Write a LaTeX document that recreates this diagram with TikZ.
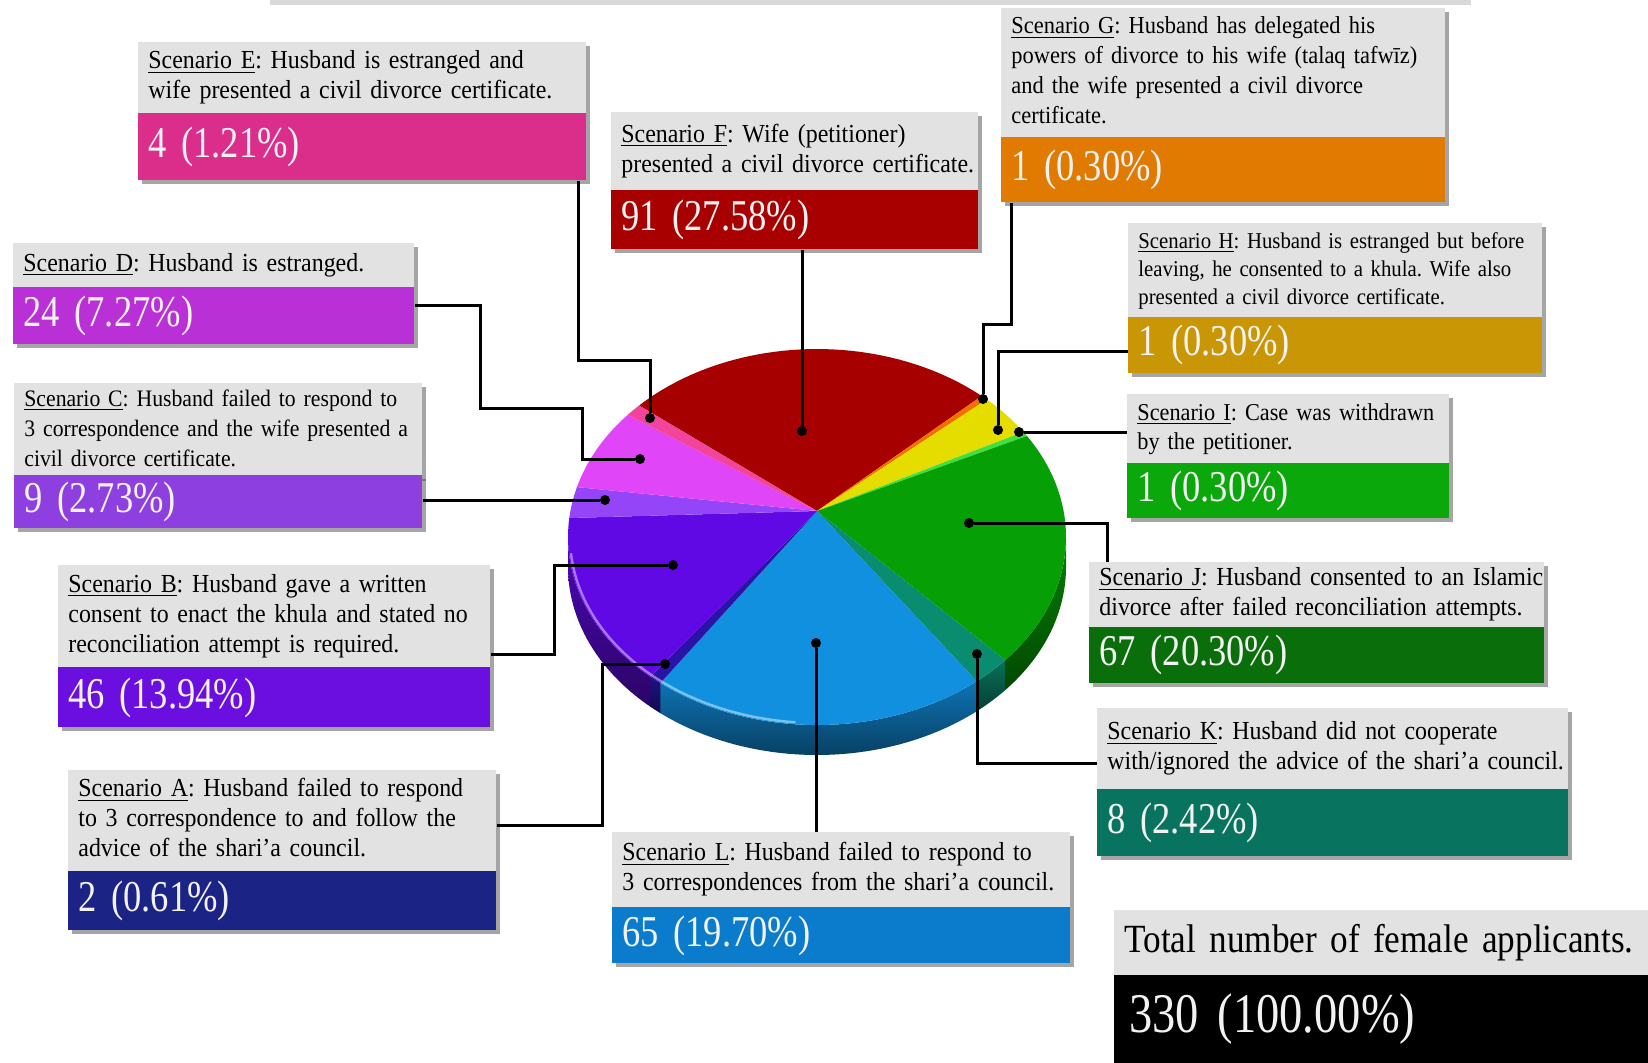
\documentclass[tikz,border=0pt]{standalone}
\usepackage{fontspec}
\setmainfont{Liberation Serif}
\newfontfamily\capfont[FakeStretch=0.92]{Liberation Serif}
\newfontfamily\numfont[FakeStretch=0.83]{Liberation Serif}
\newfontfamily\totfont[FakeStretch=0.88]{Liberation Serif}
\usetikzlibrary{shadows}
\frenchspacing
% legend band colours
\definecolor{capgray}{HTML}{E2E2E2}
\definecolor{bA}{HTML}{1B2385}
\definecolor{bB}{HTML}{6B0FE0}
\definecolor{bC}{HTML}{8E3FE0}
\definecolor{bD}{HTML}{B830D6}
\definecolor{bE}{HTML}{DB2E8A}
\definecolor{bF}{HTML}{A80000}
\definecolor{bG}{HTML}{E07A00}
\definecolor{bH}{HTML}{C99605}
\definecolor{bI}{HTML}{0AA80A}
\definecolor{bJ}{HTML}{0A6E0A}
\definecolor{bK}{HTML}{08745F}
\definecolor{bL}{HTML}{0A7CCB}
% pie colours
\definecolor{pA}{HTML}{2A14A8}
\definecolor{pB}{HTML}{6009E4}
\definecolor{pC}{HTML}{9545F8}
\definecolor{pD}{HTML}{E045F8}
\definecolor{pE}{HTML}{F2449A}
\definecolor{pF}{HTML}{A60000}
\definecolor{pG}{HTML}{F07000}
\definecolor{pH}{HTML}{E6DD00}
\definecolor{pI}{HTML}{40E040}
\definecolor{pJ}{HTML}{06A006}
\definecolor{pK}{HTML}{0A8C70}
\definecolor{pL}{HTML}{1190E0}
\newcommand\capsz{13}
\newcommand\capbs{15}
\newcommand\scbox[9]{%
  \pgfmathsetmacro\bw{(#4-#2)*0.5}%
  \pgfmathsetmacro\tw{(#4-#2)*0.5-10}%
  \pgfmathsetmacro\ch{(#5-#3)*0.5}%
  \pgfmathsetmacro\vh{(#6-#5)*0.5}%
  \node[capbox, anchor=north west, minimum width=\bw pt, minimum height=\ch pt, text width=\tw pt] (#1t) at (#2,#3) {\noindent\begin{tabular}{@{}l@{}}#8\end{tabular}};
  \node[valbox, fill=#7, anchor=north west, minimum width=\bw pt, minimum height=\vh pt, text width=\tw pt] (#1v) at (#2,#5) {#9};
}
\newcommand\pieslice[3]{% colour, t1, t2
  \fill[#1] (817,511) -- plot[domain=#2:#3, samples=40] ({817+249*cos(\x)},{537+188*sin(\x)}) -- cycle;
}
\newcommand\pieside[3]{% colour, t1, t2
  \path[top color=#1!80!black, bottom color=#1!45!black] plot[domain=#2:#3, samples=40] ({817+249*cos(\x)},{537+188*sin(\x)}) -- plot[domain=#3:#2, samples=40] ({817+249*cos(\x)},{567+188*sin(\x)}) -- cycle;
}
\begin{document}
\begin{tikzpicture}[x=0.5pt,y=-0.5pt,
  capbox/.style={fill=capgray, inner xsep=5pt, inner ysep=1pt, align=left,
    font=\capfont\fontsize{\capsz}{\capbs}\selectfont,
    drop shadow={shadow xshift=2pt,shadow yshift=-2pt,fill=black!70}},
  valbox/.style={inner xsep=5pt, inner ysep=0pt, align=left, text=white!95!black,
    font=\numfont\fontsize{22}{24}\selectfont,
    drop shadow={shadow xshift=2pt,shadow yshift=-2pt,fill=black!70}},
  conn/.style={line width=1.5pt, black},
  dot/.style={circle, fill=black, inner sep=0pt, minimum size=5pt}]
\useasboundingbox (0,0) rectangle (1648,1062);
\fill[black!15] (270,0) rectangle (1471,5);
% ---------- pie: side ----------
\pieside{pJ}{0}{40.9}
\pieside{pK}{40.9}{50.1}
\pieside{pL}{50.1}{129}
\pieside{pA}{129}{132}
\pieside{pB}{132}{180}
% ---------- pie: top ----------
\pieslice{pF}{224.4}{311.4}
\pieslice{pG}{311.4}{313}
\pieslice{pH}{313}{326}
\pieslice{pI}{326}{327.5}
\pieslice{pJ}{327.5}{400.9}
\pieslice{pK}{40.9}{50.1}
\pieslice{pL}{50.1}{129}
\pieslice{pA}{129}{132}
\pieslice{pB}{132}{185.8}
\pieslice{pC}{185.8}{195.4}
\pieslice{pD}{195.4}{220.5}
\pieslice{pE}{220.5}{224.4}
\draw[white, opacity=0.45, line width=1.2pt] plot[domain=95:175, samples=40] ({817+247*cos(\x)},{537+186*sin(\x)});
% ---------- boxes ----------
\scbox{E}{138}{42}{586}{113}{180}{bE}{\underline{Scenario E}: Husband is estranged and\\wife presented a civil divorce certificate.}{4 (1.21\%)}
\scbox{F}{611}{112}{978}{190}{249}{bF}{\underline{Scenario F}: Wife (petitioner)\\presented a civil divorce certificate.}{91 (27.58\%)}
\renewcommand\capsz{12.2}
\scbox{G}{1001}{8}{1445}{137}{202}{bG}{\underline{Scenario G}: Husband has delegated his\\powers of divorce to his wife (talaq tafwīz)\\and the wife presented a civil divorce\\certificate.}{1 (0.30\%)}
\renewcommand\capsz{11.3}\renewcommand\capbs{14}
\scbox{H}{1128}{223}{1542}{317}{373}{bH}{\underline{Scenario H}: Husband is estranged but before\\leaving, he consented to a khula. Wife also\\presented a civil divorce certificate.}{1 (0.30\%)}
\renewcommand\capsz{12.1}\renewcommand\capbs{14.5}
\scbox{I}{1127}{394}{1449}{463}{518}{bI}{\underline{Scenario I}: Case was withdrawn\\by the petitioner.}{1 (0.30\%)}
\renewcommand\capsz{13}\renewcommand\capbs{15}
\scbox{J}{1089}{562}{1544}{627}{683}{bJ}{\underline{Scenario J}: Husband consented to an Islamic\\divorce after failed reconciliation attempts.}{67 (20.30\%)}
\scbox{K}{1097}{708}{1568}{789}{856}{bK}{\underline{Scenario K}: Husband did not cooperate\\with/ignored the advice of the shari’a council.}{8 (2.42\%)}
\scbox{L}{612}{832}{1070}{907}{963}{bL}{\underline{Scenario L}: Husband failed to respond to\\3 correspondences from the shari’a council.}{65 (19.70\%)}
\scbox{A}{68}{770}{496}{871}{930}{bA}{\underline{Scenario A}: Husband failed to respond\\to 3 correspondence to and follow the\\advice of the shari’a council.}{2 (0.61\%)}
\scbox{B}{58}{565}{490}{667}{727}{bB}{\underline{Scenario B}: Husband gave a written\\consent to enact the khula and stated no\\reconciliation attempt is required.}{46 (13.94\%)}
\renewcommand\capsz{11.8}
\scbox{C}{14}{383}{422}{475}{528}{bC}{\underline{Scenario C}: Husband failed to respond to\\3 correspondence and the wife presented a\\civil divorce certificate.}{9 (2.73\%)}
\renewcommand\capsz{13}
\scbox{D}{13}{243}{414}{287}{344}{bD}{\underline{Scenario D}: Husband is estranged.}{24 (7.27\%)}
% total
\node[capbox, anchor=north west, minimum width=273pt, minimum height=32.5pt, text width=263pt, font=\totfont\fontsize{20}{22}\selectfont] (Tt) at (1114,910) {Total number of female applicants.};
\node[valbox, fill=black, anchor=north west, minimum width=273pt, minimum height=44pt, text width=258pt, inner xsep=7.5pt, font=\numfont\fontsize{28}{30}\selectfont] (Tv) at (1114,975) {330 (100.00\%)};
% ---------- dots ----------
\node[dot] (dE) at (650,418) {};
\node[dot] (dF) at (802,431) {};
\node[dot] (dG) at (983,399) {};
\node[dot] (dH) at (998,430) {};
\node[dot] (dI) at (1019,432) {};
\node[dot] (dJ) at (969,523) {};
\node[dot] (dK) at (977,654) {};
\node[dot] (dL) at (816,643) {};
\node[dot] (dA) at (665,664) {};
\node[dot] (dB) at (673,565) {};
\node[dot] (dC) at (605,500) {};
\node[dot] (dD) at (640,459) {};
% ---------- connectors ----------
\draw[conn] (578,0 |- Ev.south) -- (578,360) -- (650,360) -- (dE);
\draw[conn] (802,0 |- Fv.south) -- (dF);
\draw[conn] (1011,0 |- Gv.south) -- (1011,324) -- (983,324) -- (dG);
\draw[conn] (Hv.west |- 0,351) -- (998,351) -- (dH);
\draw[conn] (It.west |- dI) -- (dI);
\draw[conn] (1107,0 |- Jt.north) -- (1107,523) -- (dJ);
\draw[conn] (Kt.west |- 0,763) -- (977,763) -- (dK);
\draw[conn] (816,0 |- Lt.north) -- (dL);
\draw[conn] (At.east |- 0,825) -- (602,825) -- (602,664) -- (dA);
\draw[conn] (Bt.east |- 0,654) -- (554,654) -- (554,565) -- (dB);
\draw[conn] (Cv.east |- dC) -- (dC);
\draw[conn] (Dv.east |- 0,305) -- (480,305) -- (480,408) -- (582,408) -- (582,459) -- (dD);
\end{tikzpicture}
\end{document}
